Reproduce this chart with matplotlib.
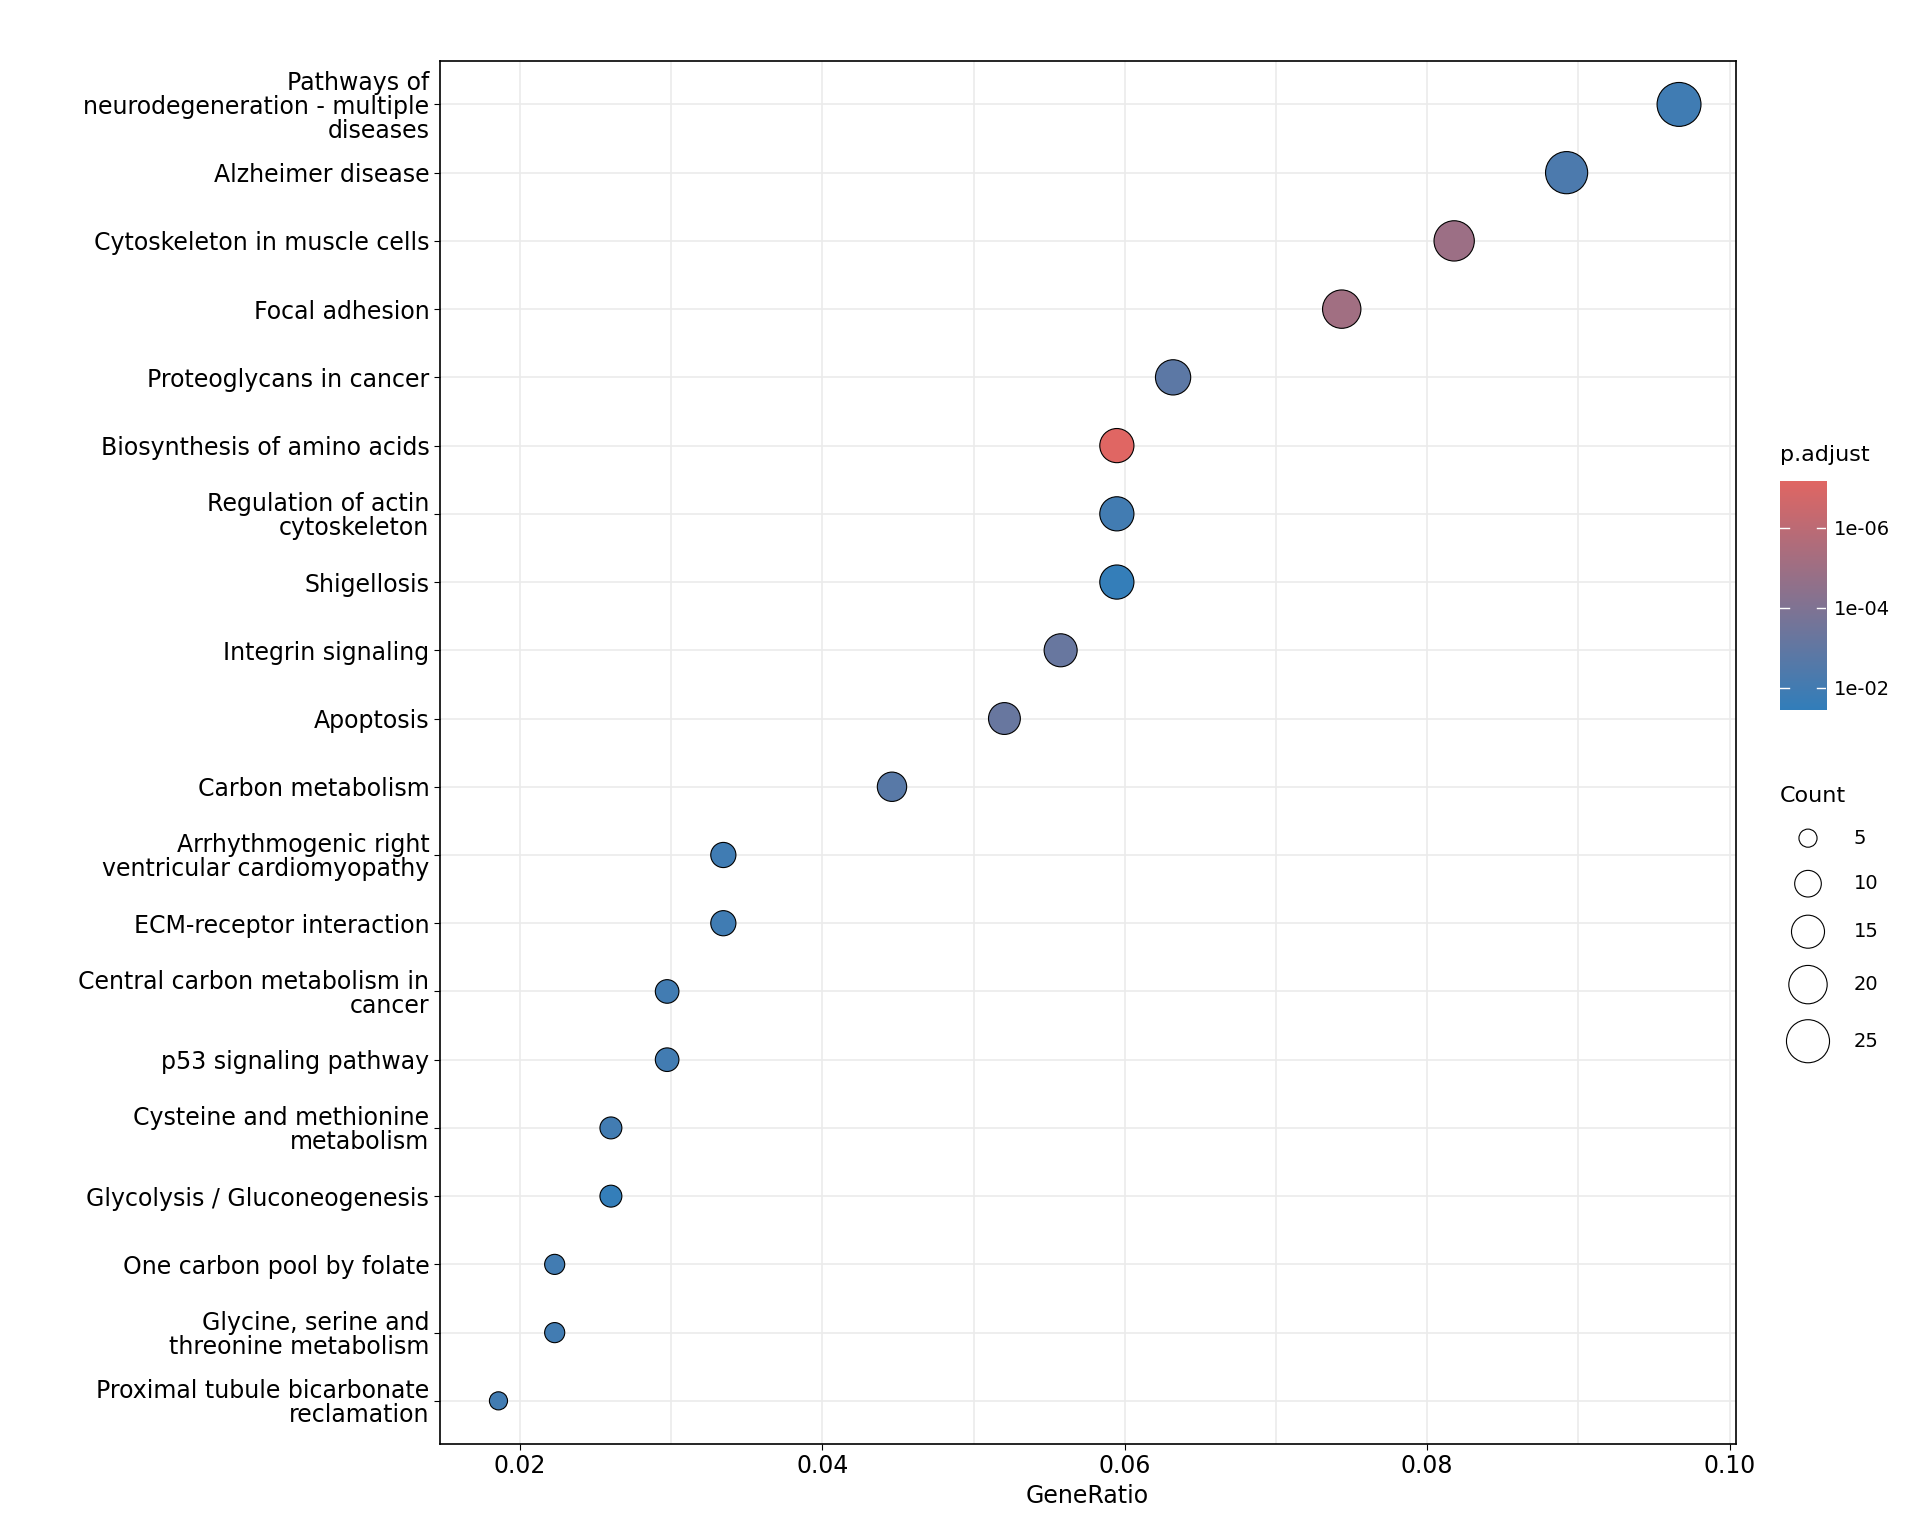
import numpy as np
import matplotlib.pyplot as plt
import matplotlib.colors as mcolors

terms = ['Pathways of\nneurodegeneration - multiple\ndiseases', 'Alzheimer disease',
         'Cytoskeleton in muscle cells', 'Focal adhesion', 'Proteoglycans in cancer',
         'Biosynthesis of amino acids', 'Regulation of actin\ncytoskeleton', 'Shigellosis',
         'Integrin signaling', 'Apoptosis', 'Carbon metabolism',
         'Arrhythmogenic right\nventricular cardiomyopathy', 'ECM-receptor interaction',
         'Central carbon metabolism in\ncancer', 'p53 signaling pathway',
         'Cysteine and methionine\nmetabolism', 'Glycolysis / Gluconeogenesis',
         'One carbon pool by folate', 'Glycine, serine and\nthreonine metabolism',
         'Proximal tubule bicarbonate\nreclamation']
counts = [26, 24, 22, 20, 17, 16, 16, 16, 15, 14, 12, 9, 9, 8, 8, 7, 7, 6, 6, 5]
total = 269
padj = [1.2e-2, 5e-3, 1.2e-5, 8e-6, 1.5e-3, 7e-8, 1e-2, 3e-2, 6e-4, 6e-4,
        2e-3, 1.2e-2, 1.2e-2, 1e-2, 1e-2, 1e-2, 3e-2, 1e-2, 1e-2, 1e-2]

ratio = np.array(counts) / total
ypos = np.arange(len(terms))[::-1]

cmap = mcolors.LinearSegmentedColormap.from_list('pa', ['#e06663', '#327eba'])
norm = mcolors.LogNorm(vmin=10**-7.17, vmax=10**-1.45)

def size(c):
    return 170 + (np.asarray(c) - 5) / 21 * 830

fig = plt.figure(figsize=(19.2, 15.36), dpi=100)
ax = fig.add_axes([0.229, 0.06, 0.675, 0.90])
ax.scatter(ratio, ypos, s=size(counts), c=padj, cmap=cmap, norm=norm,
           edgecolors='black', linewidths=0.8, zorder=3)
ax.set_xlim(0.0147, 0.1004)
ax.set_ylim(-0.63, len(terms) - 1 + 0.63)
ax.set_yticks(ypos)
ax.set_yticklabels(terms, fontsize=17, color='black')
ax.set_xticks([0.02, 0.04, 0.06, 0.08, 0.10])
ax.set_xticklabels(['0.02', '0.04', '0.06', '0.08', '0.10'], fontsize=17)
ax.set_xticks(np.arange(0.03, 0.1, 0.02), minor=True)
ax.grid(True, which='both', color='#ebebeb', linewidth=1.2)
ax.set_axisbelow(True)
ax.tick_params(axis='y', length=4)
ax.tick_params(axis='x', length=4)
ax.tick_params(which='minor', length=0)
for lbl in ax.get_yticklabels():
    lbl.set_linespacing(1.0)
ax.set_xlabel('GeneRatio', fontsize=17)
for s in ax.spines.values():
    s.set_linewidth(1.2)

# colour bar
cax = fig.add_axes([0.927, 0.538, 0.024, 0.149])
grad = np.linspace(-7.17, -1.45, 256).reshape(-1, 1)
cax.imshow(10**grad, aspect='auto', cmap=cmap, norm=norm, origin='lower',
           extent=[0, 1, -7.17, -1.45])
cax.set_xlim(0, 1)
cax.set_ylim(-1.45, -7.17)
cax.set_xticks([])
cax.yaxis.tick_right()
cax.set_yticks([-6, -4, -2])
cax.set_yticklabels(['1e-06', '1e-04', '1e-02'], fontsize=14)
cax.tick_params(axis='y', length=0, pad=6)
for v in [-6, -4, -2]:
    cax.plot([0, 0.2], [v, v], color='white', lw=1)
    cax.plot([0.8, 1], [v, v], color='white', lw=1)
for s in cax.spines.values():
    s.set_visible(False)
fig.text(0.927, 0.70, 'p.adjust', fontsize=16)

# size legend
legend_counts = [5, 10, 15, 20, 25]
ly = [681, 718, 757, 800, 846]
fig.text(0.927, 0.478, 'Count', fontsize=16)
lax = fig.add_axes([0, 0, 1, 1], facecolor='none')
lax.set_xlim(0, 1560)
lax.set_ylim(1248, 0)
lax.axis('off')
lax.scatter([1469] * 5, ly, s=size(legend_counts), facecolors='white',
            edgecolors='black', linewidths=0.8)
for c, y in zip(legend_counts, ly):
    lax.text(1506, y, str(c), fontsize=14, va='center')

fig.savefig('out.png')
